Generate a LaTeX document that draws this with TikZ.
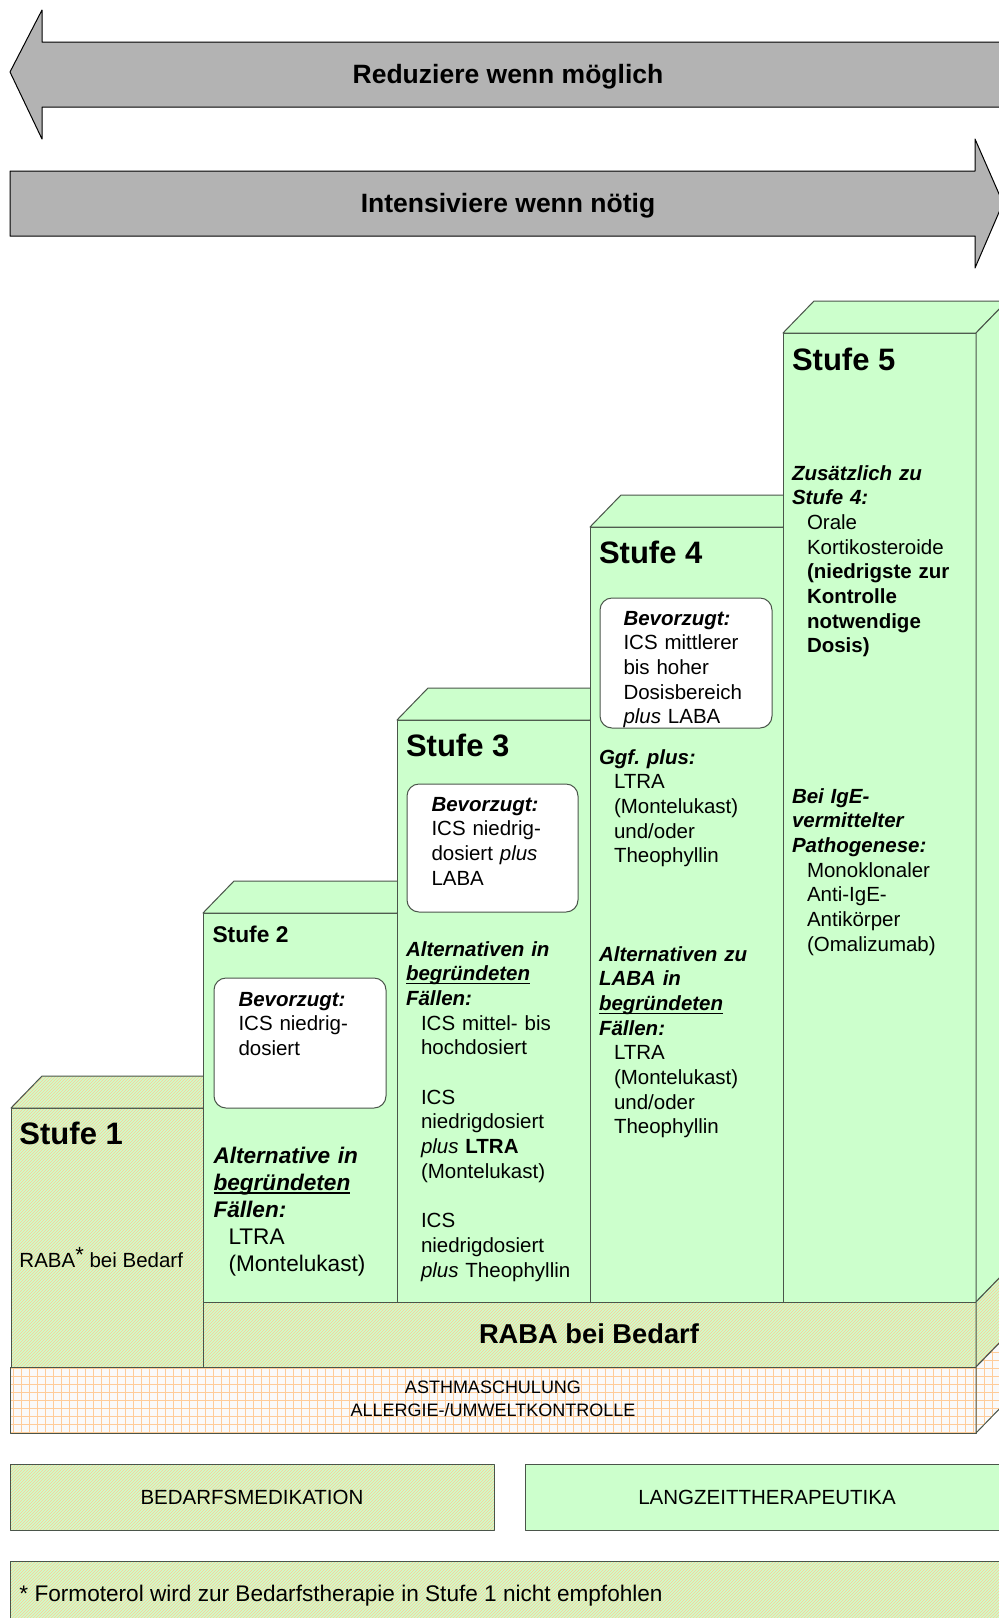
\documentclass[tikz,border=0pt]{standalone}
\usepackage{fontspec}
\setmainfont{Liberation Sans}
\usetikzlibrary{patterns}
\definecolor{greenbg}{HTML}{CCFFCC}
\definecolor{hatchline}{HTML}{FFC896}
\definecolor{edge}{HTML}{4A554A}
\definecolor{arrowgray}{HTML}{B3B3B3}
\definecolor{gridline}{HTML}{FFCC99}
\definecolor{bandbg}{HTML}{FAFAFA}
\newcommand\bodyfont{\fontsize{20.5}{24.7}\selectfont}
\newcommand\ind{\hspace*{15pt}}
\newcommand\ulword[1]{\leavevmode\setbox0\hbox{#1}\rlap{\rule[-3.6pt]{\wd0}{1.3pt}}#1}

\begin{document}
\begin{tikzpicture}[x=1pt, y=-1pt, line join=round, line width=1pt,
    front/.style={draw=edge, fill=greenbg, inner sep=0, outer sep=0, anchor=north west},
    topface/.style={draw=edge, fill=greenbg},
    hatched/.style={draw=edge, preaction={fill=greenbg}, pattern=north east lines, pattern color=hatchline},
    gridded/.style={draw=edge, fill=bandbg, path picture={\draw[gridline, line width=0.8pt, step=8pt]
      (path picture bounding box.south west) grid (path picture bounding box.north east);}},
    pref/.style={draw=edge, fill=white, rounded corners=12pt, inner sep=0, outer sep=0, anchor=north west},
    txt/.style={font=\bodyfont, text width=185pt, align=left, inner sep=0, anchor=base west},
    oneline/.style={font=\bodyfont, inner sep=0, anchor=base west},
    stufe/.style={font=\fontsize{31}{36}\selectfont\bfseries, inner sep=0, anchor=base west},
    bigarrow/.style={draw=black, fill=arrowgray},
    arrowtext/.style={font=\fontsize{26.5}{32}\selectfont\bfseries, inner sep=0, anchor=base}]

  \useasboundingbox (0,0) rectangle (999,1618);
  \clip (0,0) rectangle (999,1618);

  \filldraw[bigarrow] (10,72) -- (42,10) -- (42,42) -- (1010,42) -- (1010,107) -- (42,107) -- (42,139) -- cycle;
  \node[arrowtext] (reduce) at (508,83.5) {Reduziere wenn möglich};
  \filldraw[bigarrow] (1003,203) -- (975,268) -- (975,236) -- (10,236) -- (10,171) -- (975,171) -- (975,139) -- cycle;
  \node[arrowtext] (raise) at (508,212.5) {Intensiviere wenn nötig};

  \node[front, hatched, minimum width=192pt, minimum height=259pt] (s1) at (11,1108) {};
  \filldraw[hatched] (s1.north west) -- ++(31,-32) -- ++(192,0) -- (s1.north east) -- cycle;
  \node[front, minimum width=194pt, minimum height=389pt] (s2) at (203,913) {};
  \filldraw[topface] (s2.north west) -- ++(31,-32) -- ++(194,0) -- (s2.north east) -- cycle;
  \node[front, minimum width=193pt, minimum height=582pt] (s3) at (397,720) {};
  \filldraw[topface] (s3.north west) -- ++(31,-32) -- ++(193,0) -- (s3.north east) -- cycle;
  \node[front, minimum width=193pt, minimum height=775pt] (s4) at (590,527) {};
  \filldraw[topface] (s4.north west) -- ++(31,-32) -- ++(193,0) -- (s4.north east) -- cycle;
  \node[front, minimum width=193pt, minimum height=969pt] (s5) at (783,333) {};
  \filldraw[topface] (s5.north west) -- ++(31,-32) -- ++(193,0) -- (s5.north east) -- cycle;
  \filldraw[topface] (s5.north east) -- ++(31,-32) -- ++(0,969) -- (s5.south east) -- cycle;

  \node[front, hatched, minimum width=773pt, minimum height=65pt] (raba) at (203,1302) {};
  \filldraw[hatched] (raba.north east) -- ++(31,-32) -- ++(0,65) -- (raba.south east) -- cycle;
  \node[font=\fontsize{27.3}{33}\selectfont\bfseries, inner sep=0, anchor=base] (rabatxt) at (589,1343) {RABA bei Bedarf};

  \node[front, gridded, minimum width=966pt, minimum height=66pt] (band) at (10,1367) {};
  \filldraw[gridded] (band.north east) -- ++(31,-32) -- ++(0,66) -- (band.south east) -- cycle;
  \node[font=\fontsize{18}{23}\selectfont, align=center, inner sep=0] (bandtxt) at (493,1399) {ASTHMASCHULUNG\\ALLERGIE-/UMWELTKONTROLLE};

  \node[pref, minimum width=172pt, minimum height=130pt] (pref2) at (214,978) {};
  \node[pref, minimum width=171pt, minimum height=128pt] (pref3) at (407,784) {};
  \node[pref, minimum width=172pt, minimum height=130pt] (pref4) at (600,598) {};

  \node[stufe] (l1) at (19,1144) {Stufe 1};
  \node[oneline] (n1) at (19,1267) {RABA\raisebox{5pt}{\fontsize{22}{22}\selectfont *} bei Bedarf};

  \node[stufe, font=\fontsize{22.8}{27}\selectfont\bfseries] (l2) at (212,942) {Stufe 2};
  \node[txt] (p2) at (238,1006) {\textbf{\textit{Bevorzugt:}}\\ICS niedrig-\\dosiert};
  \node[txt, font=\fontsize{22.6}{27}\selectfont] (a2) at (213,1163) {\bfseries\itshape Alternative in\\\ulword{begründeten}\\Fällen:\\\mdseries\upshape
    \ind LTRA\\\ind (Montelukast)};

  \node[stufe] (l3) at (405.5,756) {Stufe 3};
  \node[txt] (p3) at (431,811) {\textbf{\textit{Bevorzugt:}}\\ICS niedrig-\\dosiert \textit{plus}\\LABA};
  \node[txt] (a3) at (405.5,956) {\bfseries\itshape Alternativen in\\\ulword{begründeten}\\Fällen:\\\mdseries\upshape
    \ind ICS mittel- bis\\\ind hochdosiert\\[24.7pt]\ind ICS\\\ind niedrigdosiert\\\ind \textit{plus} \textbf{LTRA}\\\ind (Montelukast)\\[24.7pt]
    \ind ICS\\\ind niedrigdosiert\\\ind \textit{plus} Theophyllin};

  \node[stufe] (l4) at (598.5,563) {Stufe 4};
  \node[txt] (p4) at (623,625) {\textbf{\textit{Bevorzugt:}}\\ICS mittlerer\\bis hoher\\Dosisbereich\\\textit{plus} LABA};
  \node[txt] (g4) at (598.5,764) {\textbf{\textit{Ggf.\ plus:}}\\\ind LTRA\\\ind (Montelukast)\\\ind und/oder\\\ind Theophyllin};
  \node[txt] (a4) at (598.5,961) {\bfseries\itshape Alternativen zu\\LABA in\\\ulword{begründeten}\\Fällen:\\\mdseries\upshape
    \ind LTRA\\\ind (Montelukast)\\\ind und/oder\\\ind Theophyllin};

  \node[stufe] (l5) at (791.5,370) {Stufe 5};
  \node[txt] (z5) at (791.5,480) {\bfseries\itshape Zusätzlich zu\\Stufe 4:\\\mdseries\upshape
    \ind Orale\\\ind Kortikosteroide\\\bfseries\ind (niedrigste zur\\\ind Kontrolle\\\ind notwendige\\\ind Dosis)};
  \node[txt] (i5) at (791.5,803) {\bfseries\itshape Bei IgE-\\vermittelter\\Pathogenese:\\\mdseries\upshape
    \ind Monoklonaler\\\ind Anti-IgE-\\\ind Antikörper\\\ind (Omalizumab)};

  \node[front, hatched, minimum width=484pt, minimum height=66pt, font=\bodyfont] (bedarf) at (10,1464) {BEDARFSMEDIKATION};
  \node[front, minimum width=484pt, minimum height=66pt, font=\bodyfont] (langzeit) at (525,1464) {LANGZEITTHERAPEUTIKA};

  \node[front, hatched, minimum width=1000pt, minimum height=70pt] (note) at (10,1561) {};
  \node[oneline, font=\fontsize{22.6}{27}\selectfont] (notetxt) at (19,1601) {* Formoterol wird zur Bedarfstherapie in Stufe 1 nicht empfohlen};
\end{tikzpicture}
\end{document}
